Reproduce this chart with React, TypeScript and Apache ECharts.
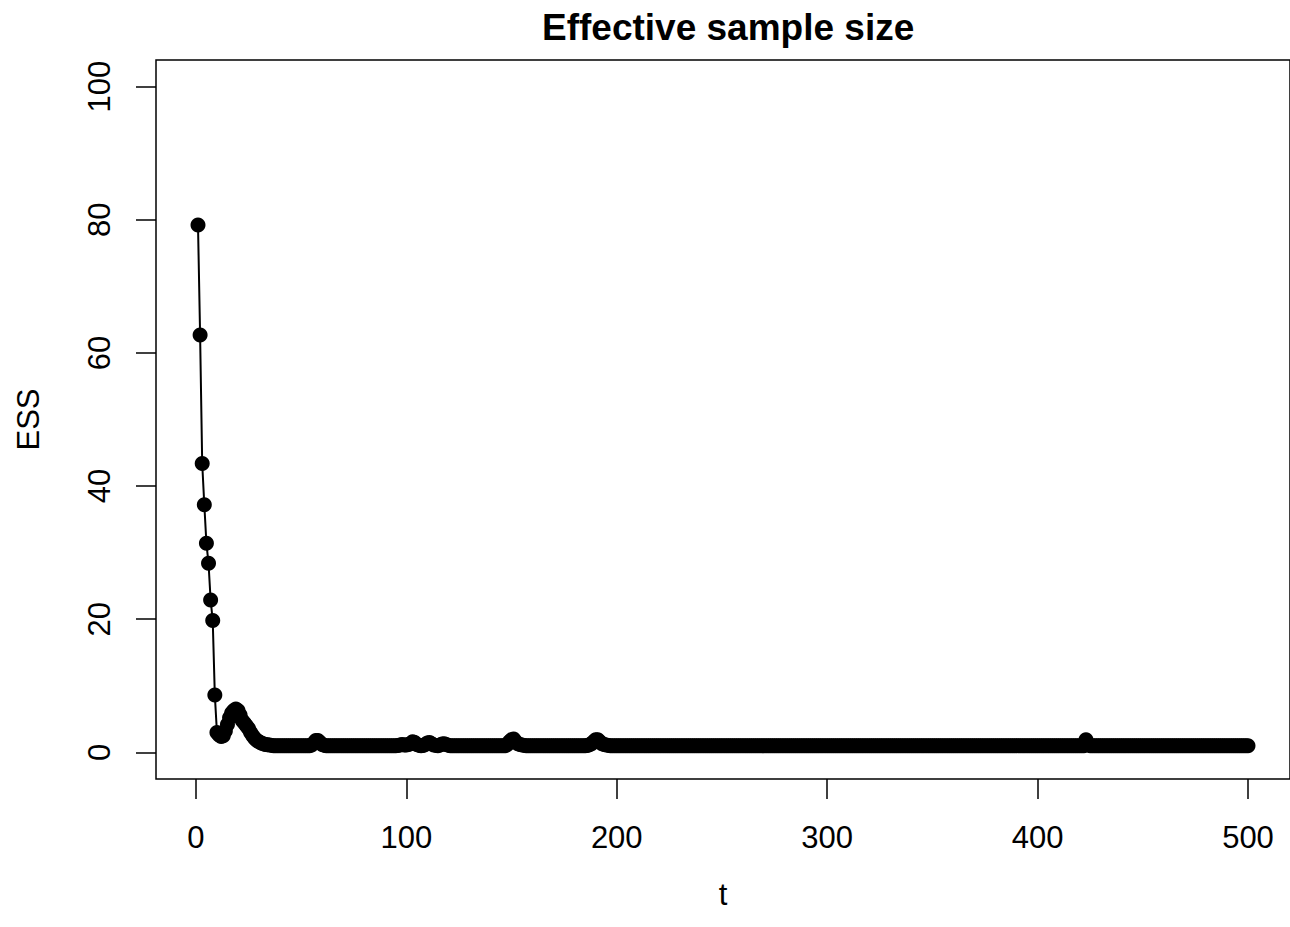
import React, { useEffect, useRef } from "react";
import * as echarts from "echarts";

const xTicks = [0, 100, 200, 300, 400, 500];
const yTicks = [0, 20, 40, 60, 80, 100];

// ESS at t = 1..500 (25 values per row)
const ess = [
  79.2, 62.7, 43.4, 37.2, 31.4, 28.4, 22.9, 19.8, 8.6, 3.0, 2.6, 2.4, 2.5, 3.2, 4.2, 5.2, 5.9, 6.3, 6.5, 6.3, 5.6, 4.8, 4.4, 4.0, 3.6,
  3.0, 2.5, 2.1, 1.8, 1.6, 1.4, 1.3, 1.2, 1.15, 1.1, 1.05, 1, 1, 1, 1, 1, 1, 1, 1, 1, 1, 1, 1, 1, 1,
  1, 1, 1, 1, 1.1, 1.4, 1.8, 1.8, 1.5, 1.2, 1.05, 1, 1, 1, 1, 1, 1, 1, 1, 1, 1, 1, 1, 1, 1,
  1, 1, 1, 1, 1, 1, 1, 1, 1, 1, 1, 1, 1, 1, 1, 1, 1, 1, 1, 1, 1.05, 1.1, 1.2, 1.1, 1.1,
  1.2, 1.3, 1.6, 1.5, 1.2, 1.05, 1, 1.05, 1.2, 1.4, 1.5, 1.3, 1.1, 1.05, 1, 1.1, 1.25, 1.3, 1.2, 1.05, 1, 1, 1, 1, 1,
  1, 1, 1, 1, 1, 1, 1, 1, 1, 1, 1, 1, 1, 1, 1, 1, 1, 1, 1, 1, 1, 1, 1.2, 1.6, 1.9,
  2.0, 1.6, 1.3, 1.2, 1.1, 1.05, 1, 1, 1, 1, 1, 1, 1, 1, 1, 1, 1, 1, 1, 1, 1, 1, 1, 1, 1,
  1, 1, 1, 1, 1, 1, 1, 1, 1, 1, 1.05, 1.15, 1.3, 1.6, 1.9, 1.9, 1.6, 1.3, 1.2, 1.1, 1.05, 1, 1, 1, 1,
  1, 1, 1, 1, 1, 1, 1, 1, 1, 1, 1, 1, 1, 1, 1, 1, 1, 1, 1, 1, 1, 1, 1, 1, 1,
  1, 1, 1, 1, 1, 1, 1, 1, 1, 1, 1, 1, 1, 1, 1, 1, 1, 1, 1, 1, 1, 1, 1, 1, 1,
  1, 1, 1, 1, 1, 1, 1, 1, 1, 1, 1, 1, 1, 1, 1, 1, 1, 1, 1, 1, 1, 1, 1, 1, 1,
  1, 1, 1, 1, 1, 1, 1, 1, 1, 1, 1, 1, 1, 1, 1, 1, 1, 1, 1, 1, 1, 1, 1, 1, 1,
  1, 1, 1, 1, 1, 1, 1, 1, 1, 1, 1, 1, 1, 1, 1, 1, 1, 1, 1, 1, 1, 1, 1, 1, 1,
  1, 1, 1, 1, 1, 1, 1, 1, 1, 1, 1, 1, 1, 1, 1, 1, 1, 1, 1, 1, 1, 1, 1, 1, 1,
  1, 1, 1, 1, 1, 1, 1, 1, 1, 1, 1, 1, 1, 1, 1, 1, 1, 1, 1, 1, 1, 1, 1, 1, 1,
  1, 1, 1, 1, 1, 1, 1, 1, 1, 1, 1, 1, 1, 1, 1, 1, 1, 1, 1, 1, 1, 1, 1, 1, 1,
  1, 1, 1, 1, 1, 1, 1, 1, 1, 1, 1, 1, 1, 1, 1, 1, 1, 1, 1, 1, 1, 1, 1.9, 1.2, 1,
  1, 1, 1, 1, 1, 1, 1, 1, 1, 1, 1, 1, 1, 1, 1, 1, 1, 1, 1, 1, 1, 1, 1, 1, 1,
  1, 1, 1, 1, 1, 1, 1, 1, 1, 1, 1, 1, 1, 1, 1, 1, 1, 1, 1, 1, 1, 1, 1, 1, 1,
  1, 1, 1, 1, 1, 1, 1, 1, 1, 1, 1, 1, 1, 1, 1, 1, 1, 1, 1, 1, 1, 1, 1, 1, 1,
];

const FONT = "'Liberation Sans', Arial, Helvetica, sans-serif";

export default function App() {
  const ref = useRef<HTMLDivElement>(null);
  useEffect(() => {
    const chart = echarts.init(ref.current!, null, { renderer: "svg" });
    const data = ess.map((v, i) => [i + 1, v]);
    chart.setOption({
      animation: false,
      backgroundColor: "#fff",
      title: {
        text: "Effective sample size",
        left: 537,
        top: 4,
        textStyle: { fontFamily: FONT, fontSize: 37, fontWeight: "bold", color: "#000" },
      },
      grid: {
        left: 156,
        right: -2,
        top: 60,
        bottom: 148,
        show: true,
        borderColor: "#000",
        borderWidth: 1.5,
        backgroundColor: "transparent",
      },
      xAxis: {
        type: "value",
        min: -18.96,
        max: 519.96,
        name: "t",
        nameLocation: "middle",
        nameGap: 100,
        nameTextStyle: { fontFamily: FONT, fontSize: 31, color: "#000" },
        axisLine: { show: false, onZero: false },
        axisTick: { show: true, inside: false, length: 20, customValues: xTicks, lineStyle: { color: "#000", width: 1.5 } },
        axisLabel: { customValues: xTicks, fontFamily: FONT, fontSize: 31, color: "#000", margin: 43 },
        splitLine: { show: false },
      },
      yAxis: {
        type: "value",
        min: -4,
        max: 104,
        name: "ESS",
        nameLocation: "middle",
        nameRotate: 90,
        nameGap: 112,
        nameTextStyle: { fontFamily: FONT, fontSize: 31, color: "#000" },
        axisLine: { show: false, onZero: false },
        axisTick: { show: true, inside: false, length: 20, customValues: yTicks, lineStyle: { color: "#000", width: 1.5 } },
        axisLabel: { customValues: yTicks, rotate: 90, fontFamily: FONT, fontSize: 31, color: "#000", margin: 41 },
        splitLine: { show: false },
      },
      series: [
        {
          type: "line",
          data,
          symbol: "circle",
          symbolSize: 15,
          showAllSymbol: true,
          itemStyle: { color: "#000" },
          lineStyle: { color: "#000", width: 2 },
        },
      ],
    });
    return () => chart.dispose();
  }, []);
  return (
    <div
      ref={ref}
      style={{ position: "fixed", left: 0, top: 0, width: 1290, height: 927, background: "#fff" }}
    />
  );
}
